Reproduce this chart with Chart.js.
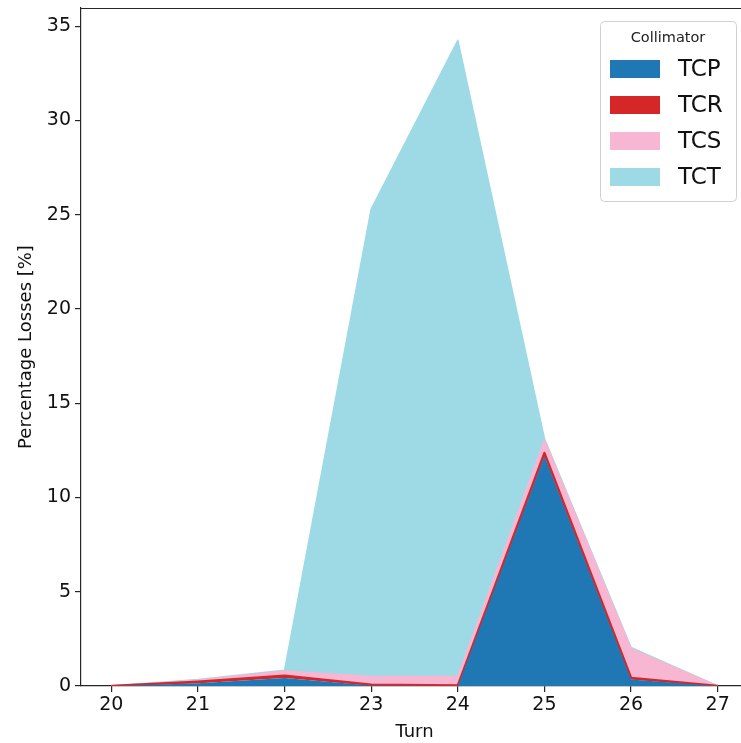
<!DOCTYPE html>
<html>
<head>
<meta charset="utf-8">
<script src="https://cdn.jsdelivr.net/npm/chart.js@4.4.1/dist/chart.umd.min.js"></script>
<style>
    html, body { margin: 0; padding: 0; background: #fff; overflow: hidden; }
    #wrap { width: 748px; height: 743px; }
</style>
</head>
<body>
<div id="wrap"><canvas id="chart" width="748" height="743"></canvas></div>
<script>
// turns on the x axis
const turns = [20, 21, 22, 23, 24, 25, 26, 27];

// percentage losses per collimator family (stacked)
const tcp = [0, 0.15, 0.42, 0.02, 0, 12.2, 0.35, 0];
const tcr = [0, 0.08, 0.12, 0.05, 0.02, 0.15, 0.08, 0];
const tcs = [0, 0.07, 0.25, 0.43, 0.48, 0.7, 1.55, 0];
const tct = [0, 0.05, 0.05, 24.8, 33.75, 0.08, 0.06, 0];

const seriesNames = ['TCP', 'TCR', 'TCS', 'TCT'];
const seriesColors = ['#1f77b4', '#d62728', '#f7b6d2', '#9edae5'];
const edgeWidths = [0, 2.5, 1.5, 1.5];
const yTicks = [0, 5, 10, 15, 20, 25, 30, 35];

const FONT = "'DejaVu Sans', sans-serif";
const AXIS_COLOR = '#262626';

function toPoints(values) {
    return turns.map((t, i) => ({ x: t, y: values[i] }));
}

const datasets = [tcp, tcr, tcs, tct].map((vals, i) => ({
    label: seriesNames[i],
    data: toPoints(vals),
    backgroundColor: seriesColors[i],
    borderColor: seriesColors[i],
    borderWidth: edgeWidths[i],
    borderJoinStyle: 'round',
    pointRadius: 0,
    tension: 0,
    fill: i === 0 ? 'origin' : '-1'
}));

// top spine + matplotlib-style legend box
const framePlugin = {
    id: 'frame',
    afterDraw(chart) {
        const { ctx, chartArea } = chart;
        ctx.save();
        ctx.strokeStyle = AXIS_COLOR;
        ctx.lineWidth = 1.2;
        ctx.beginPath();
        ctx.moveTo(chartArea.left, chartArea.top + 0.5);
        ctx.lineTo(chartArea.right, chartArea.top + 0.5);
        ctx.stroke();

        // legend
        const bx = 600.5, by = 21.5, bw = 136, bh = 180;
        ctx.fillStyle = 'rgba(255,255,255,0.85)';
        ctx.strokeStyle = '#d0d0d0';
        ctx.lineWidth = 1;
        ctx.beginPath();
        ctx.roundRect(bx, by, bw, bh, 4);
        ctx.fill();
        ctx.stroke();

        ctx.fillStyle = '#222';
        ctx.font = `14.5px ${FONT}`;
        ctx.textAlign = 'center';
        ctx.textBaseline = 'middle';
        ctx.fillText('Collimator', 668, 38);

        ctx.textAlign = 'left';
        ctx.font = `23px ${FONT}`;
        chart.data.datasets.forEach((ds, i) => {
            const cy = 69 + i * 36;
            ctx.fillStyle = ds.backgroundColor;
            ctx.fillRect(610, cy - 9, 50, 18);
            ctx.fillStyle = '#111';
            ctx.fillText(ds.label, 678, cy + 1);
        });
        ctx.restore();
    }
};

new Chart(document.getElementById('chart'), {
    type: 'line',
    data: { datasets },
    options: {
        responsive: false,
        animation: false,
        devicePixelRatio: 1,
        layout: { padding: { top: 8, left: 0, right: 0, bottom: 0 } },
        plugins: {
            legend: { display: false },
            tooltip: { enabled: false },
            filler: { propagate: false }
        },
        scales: {
            x: {
                type: 'linear',
                min: 19.65,
                max: 27.35,
                afterFit: (s) => {
                    s.height = 57;
                    s.paddingLeft = 0;
                    s.paddingRight = 0;
                },
                afterBuildTicks: (s) => {
                    s.ticks = turns.map(v => ({ value: v }));
                },
                ticks: {
                    stepSize: 1,
                    color: '#111',
                    font: { family: FONT, size: 19 },
                    padding: 2,
                    callback: (v) => String(v)
                },
                grid: {
                    drawOnChartArea: false,
                    drawTicks: true,
                    tickLength: 6,
                    color: AXIS_COLOR,
                    lineWidth: 1.2
                },
                border: { display: true, color: AXIS_COLOR, width: 1.2 },
                title: {
                    display: true,
                    text: 'Turn',
                    color: '#111',
                    font: { family: FONT, size: 18 },
                    padding: { top: 0, bottom: 0 }
                }
            },
            y: {
                stacked: true,
                min: 0,
                max: 35.96,
                afterFit: (s) => {
                    s.width = 81;
                    s.paddingTop = 0;
                    s.paddingBottom = 0;
                },
                afterBuildTicks: (s) => {
                    s.ticks = yTicks.map(v => ({ value: v }));
                },
                ticks: {
                    stepSize: 5,
                    color: '#111',
                    font: { family: FONT, size: 19 },
                    padding: 4,
                    callback: (v) => String(v)
                },
                grid: {
                    drawOnChartArea: false,
                    drawTicks: true,
                    tickLength: 6,
                    color: AXIS_COLOR,
                    lineWidth: 1.2
                },
                border: { display: true, color: AXIS_COLOR, width: 1.2 },
                title: {
                    display: true,
                    text: 'Percentage Losses [%]',
                    color: '#111',
                    font: { family: FONT, size: 18 },
                    padding: { top: 16, bottom: 0 }
                }
            }
        }
    },
    plugins: [framePlugin]
});
</script>
</body>
</html>
